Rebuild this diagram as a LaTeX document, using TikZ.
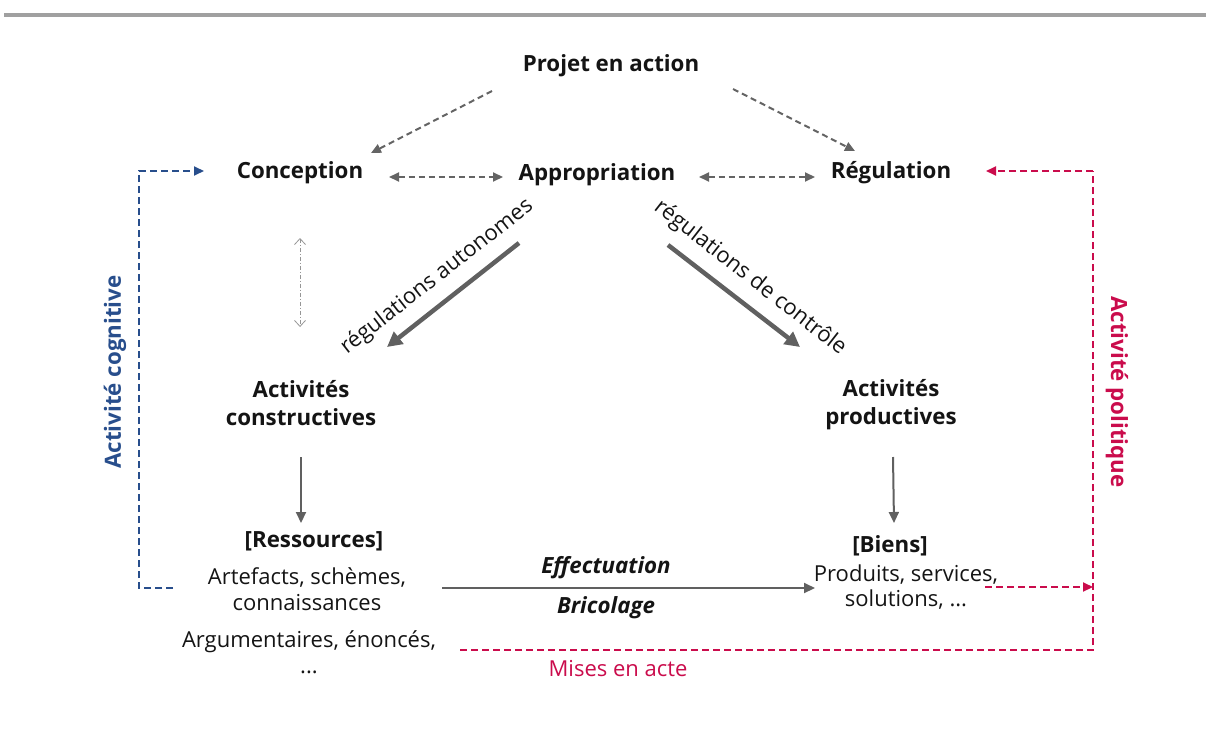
\documentclass[tikz,border=0pt]{standalone}
\usepackage{fontspec}
\setmainfont{Open Sans}
\usetikzlibrary{arrows.meta}
\definecolor{txtc}{RGB}{20,20,20}
\definecolor{grc}{RGB}{96,96,96}
\definecolor{dgc}{RGB}{100,100,100}
\definecolor{lgc}{RGB}{150,150,150}
\definecolor{bluec}{RGB}{40,78,140}
\definecolor{redc}{RGB}{202,12,76}
\definecolor{barc}{RGB}{160,160,160}
\begin{document}
\begin{tikzpicture}[x=1pt,y=-1pt,
  bl/.style={font=\fontsize{22.3}{28}\selectfont\bfseries, text=txtc, inner sep=0, align=center},
  rg/.style={font=\fontsize{22}{25.5}\selectfont, text=txtc, inner sep=0, align=center},
  bi/.style={font=\fontsize{22.3}{25}\selectfont\bfseries\itshape, text=txtc, inner sep=0},
  dasharrow/.style={draw=dgc, line width=2pt, dash pattern=on 6pt off 4pt, -{Triangle[length=10pt,width=9pt]}},
  dblarrow/.style={draw=dgc, line width=2pt, dash pattern=on 6pt off 4pt, {Triangle[length=10pt,width=9pt]}-{Triangle[length=10pt,width=9pt]}},
  thickarrow/.style={draw=grc, line width=4.5pt, -{Triangle[length=15pt,width=15pt]}},
  plainarrow/.style={draw=grc, line width=2pt, -{Triangle[length=11pt,width=10pt]}},
  bluedash/.style={draw=bluec, line width=2pt, dash pattern=on 7pt off 4pt},
  reddash/.style={draw=redc, line width=2pt, dash pattern=on 7pt off 4pt},
]
\useasboundingbox (0,0) rectangle (1206,733);
\fill[barc] (4,13) rectangle (1206,17);

% nodes
\node[bl] (projet) at (611,66) {Projet en action};
\node[bl] (conc) at (300,173) {Conception};
\node[bl] (appr) at (597,175) {Appropriation};
\node[bl] (regu) at (891,173) {Régulation};
\node[bl] (acons) at (301,403) {Activités\\constructives};
\node[bl] (aprod) at (891,405) {Activités\\productives};
\node[bl] (ress) at (314,541) {[Ressources]};
\node[rg] (artef) at (307,589) {Artefacts, schèmes,\\connaissances};
\node[rg] (argu) at (309,652) {Argumentaires, énoncés,\\...};
\node[bl] (biens) at (890,546) {[Biens]};
\node[rg] (prod) at (906,587) {Produits, services,\\solutions, ...};
\node[bi] (effect) at (606,568) {Effectuation};
\node[bi] (brico) at (606,608) {Bricolage};
\node[font=\fontsize{22}{25}\selectfont, text=redc, inner sep=0] (mises) at (618,669) {Mises en acte};
\node[font=\fontsize{22.3}{25}\selectfont\bfseries, text=bluec, inner sep=0, rotate=90] (cogn) at (115,372) {Activité cognitive};
\node[font=\fontsize{22.3}{25}\selectfont\bfseries, text=redc, inner sep=0, rotate=-90] (poli) at (1117,392) {Activité politique};
\node[font=\fontsize{22}{25}\selectfont, text=txtc, inner sep=0, rotate=38] (ra) at (437,277) {régulations autonomes};
\node[font=\fontsize{22}{25}\selectfont, text=txtc, inner sep=0, rotate=-38] (rc) at (750,278) {régulations de contrôle};

% coordinates
\coordinate (p1) at (492,91);  \coordinate (p2) at (371,153);
\coordinate (p3) at (733,89);  \coordinate (p4) at (855,151);
\coordinate (c1) at (389,177); \coordinate (c2) at (503,177);
\coordinate (c3) at (699,177); \coordinate (c4) at (815,177);
\coordinate (t1) at (519,243); \coordinate (t2) at (387,347);
\coordinate (t3) at (668,245); \coordinate (t4) at (800,347);
\coordinate (v1) at (300,238); \coordinate (v2) at (300,327);
\coordinate (d1) at (301,457); \coordinate (d2) at (301,523);
\coordinate (d3) at (893,457); \coordinate (d4) at (894,523);
\coordinate (h1) at (442,588); \coordinate (h2) at (815,588);
\coordinate (b1) at (173,588); \coordinate (b2) at (139,588);
\coordinate (b3) at (139,171); \coordinate (b4) at (204,171);
\coordinate (r1) at (460,650); \coordinate (r2) at (1093,650);
\coordinate (r3) at (1093,171); \coordinate (r4) at (986,171);
\coordinate (r5) at (985,587); \coordinate (r6) at (1093,587);

% connectors
\draw[dasharrow] (p1) -- (p2);
\draw[dasharrow] (p3) -- (p4);
\draw[dblarrow] (c1) -- (c2);
\draw[dblarrow] (c3) -- (c4);
\draw[thickarrow] (t1) -- (t2);
\draw[thickarrow] (t3) -- (t4);
\draw[draw=lgc, line width=0.8pt, dash pattern=on 4pt off 2pt on 1pt off 2pt, {Straight Barb[length=6pt,width=11pt]}-{Straight Barb[length=6pt,width=11pt]}] (v1) -- (v2);
\draw[plainarrow] (d1) -- (d2);
\draw[plainarrow] (d3) -- (d4);
\draw[plainarrow] (h1) -- (h2);
\draw[bluedash, -{Triangle[length=10pt,width=9pt]}] (b1) -- (b2) -- (b3) -- (b4);
\draw[reddash] (r1) -- (r2) -- (r3);
\draw[reddash, -{Triangle[length=10pt,width=9pt]}] (r3) -- (r4);
\draw[reddash, -{Triangle[length=10pt,width=9pt]}] (r5) -- (r6);
\end{tikzpicture}
\end{document}
